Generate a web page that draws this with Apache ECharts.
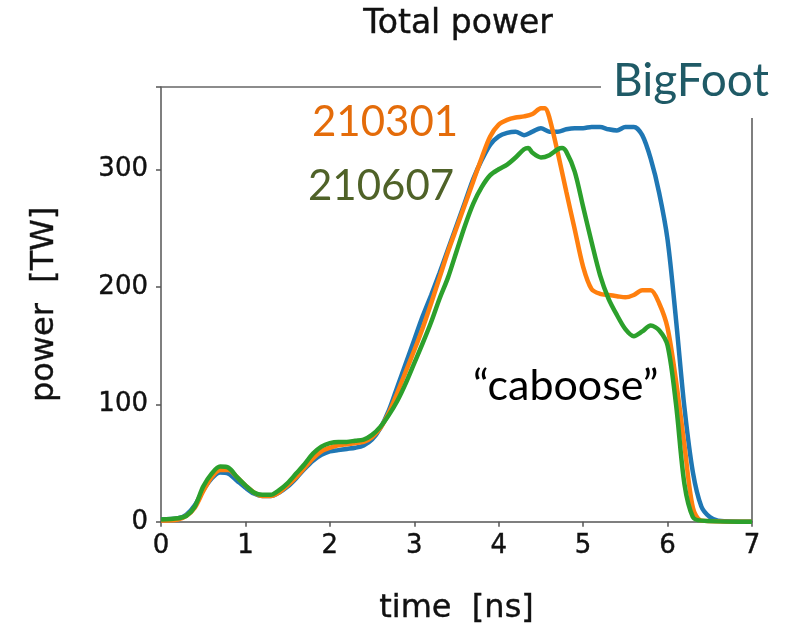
<!DOCTYPE html>
<html>
<head>
<meta charset="utf-8">
<script src="https://cdn.jsdelivr.net/npm/echarts@6/dist/echarts.min.js"></script>
<style>html,body{margin:0;padding:0;background:#fff}#c{width:797px;height:630px}</style>
</head>
<body>
<div id="c"></div>
<script>
// ---- data (time in ns, power in TW) ----
const tBigFoot = [0,0.2,0.3,0.4,0.5,0.6,0.7,0.8,0.9,1.0,1.1,1.2,1.3,1.4,1.5,1.6,1.7,1.8,1.9,2.0,2.1,2.2,2.3,2.4,2.5,2.6,2.7,2.8,2.9,3.0,3.1,3.2,3.3,3.4,3.5,3.6,3.7,3.8,3.9,4.0,4.1,4.2,4.3,4.4,4.5,4.6,4.7,4.8,4.9,5.0,5.1,5.2,5.3,5.4,5.5,5.6,5.7,5.8,5.9,6.0,6.1,6.2,6.3,6.4,6.5,6.6,7.0];
const pBigFoot = [2,3,6,14,27,37,42,41,35,29,24,22,22,25,30,37,45,52,57,60,61,62,63,65,70,80,95,115,135,155,175,193,212,232,252,272,292,308,321,328,331,332,329,332,335,332,332,334,335,335,336,336,334,333,336,336,329,309,280,240,172,97,42,13,4,1,0];

const t210301 = [0,0.2,0.3,0.4,0.5,0.6,0.7,0.8,0.9,1.0,1.1,1.2,1.3,1.4,1.5,1.6,1.7,1.8,1.9,2.0,2.1,2.2,2.3,2.4,2.5,2.6,2.7,2.8,2.9,3.0,3.1,3.2,3.3,3.4,3.5,3.6,3.7,3.8,3.9,4.0,4.1,4.2,4.3,4.4,4.5,4.55,4.6,4.7,4.8,4.9,5.0,5.1,5.2,5.3,5.4,5.5,5.6,5.7,5.8,5.9,6.0,6.1,6.2,6.3,6.4,7.0];
const p210301 = [1,2,5,12,26,38,44,44,38,31,25,22,22,25,31,38,46,54,60,63,65,66,67,68,72,80,93,110,128,146,165,186,208,230,250,270,290,310,328,338,342,344,345,347,352,352,344,314,281,249,217,198,194,193,192,191,193,197,197,186,165,120,65,12,1,0];

const t210607 = [0,0.2,0.3,0.4,0.5,0.6,0.7,0.8,0.9,1.0,1.1,1.2,1.3,1.4,1.5,1.6,1.7,1.8,1.9,2.0,2.1,2.2,2.3,2.4,2.5,2.6,2.7,2.8,2.9,3.0,3.1,3.2,3.3,3.4,3.5,3.6,3.7,3.8,3.9,4.0,4.1,4.2,4.3,4.35,4.4,4.5,4.6,4.7,4.75,4.8,4.9,5.0,5.1,5.2,5.3,5.4,5.5,5.6,5.7,5.8,5.9,6.0,6.1,6.2,6.3,6.4,7.0];
const p210607 = [2,3,5,13,30,41,47,46,38,31,25,23,23,27,33,41,49,58,64,67,68,68,69,70,74,81,91,103,118,135,152,170,190,208,230,252,271,285,295,300,304,310,317,318,314,310,312,317,318,315,298,268,238,210,190,176,164,158,162,167,163,150,100,32,4,1,0];

const xTicks = [0,1,2,3,4,5,6,7];
const yTicks = [0,100,200,300];

const seriesNames = ['BigFoot','210301','210607'];
const seriesColors = ['#1f77b4','#ff7f0e','#2ca02c'];

function pairs(t, p){ return t.map((x,i)=>[x,p[i]]); }

const chart = echarts.init(document.getElementById('c'), null, {renderer:'canvas'});
const tickFont = {fontFamily:'DejaVu Sans', fontSize:26, color:'#111', textBorderColor:'#111', textBorderWidth:0.4};
const nameFont = {fontFamily:'DejaVu Sans', fontSize:32, color:'#111', textBorderColor:'#111', textBorderWidth:0.4};
chart.setOption({
  animation:false,
  backgroundColor:'#fff',
  grid:{left:161, right:45, top:87, bottom:108, containLabel:false},
  xAxis:{
    type:'value', min:0, max:7, interval:1,
    name:'time  [ns]', nameLocation:'middle', nameGap:71,
    nameTextStyle:nameFont,
    axisLine:{show:true, onZero:false, lineStyle:{color:'#555', width:1.5}},
    axisTick:{show:true, length:5, lineStyle:{color:'#555', width:1.5}},
    axisLabel:Object.assign({margin:11, formatter:v=>xTicks.includes(v)?String(v):''}, tickFont),
    splitLine:{show:false}
  },
  yAxis:{
    type:'value', min:0, max:370, interval:100,
    name:'power  [TW]', nameLocation:'middle', nameGap:100,
    nameTextStyle:nameFont,
    axisLine:{show:true, lineStyle:{color:'#555', width:1.5}},
    axisTick:{show:true, length:5, lineStyle:{color:'#555', width:1.5}},
    axisLabel:Object.assign({margin:13, formatter:v=>yTicks.includes(v)?String(v):''}, tickFont),
    splitLine:{show:false}
  },
  series:[
    {name:seriesNames[0], type:'line', data:pairs(tBigFoot,pBigFoot), smooth:0.3, showSymbol:false, lineStyle:{color:seriesColors[0], width:4.5}, z:2},
    {name:seriesNames[1], type:'line', data:pairs(t210301,p210301), smooth:0.3, showSymbol:false, lineStyle:{color:seriesColors[1], width:4.5}, z:3},
    {name:seriesNames[2], type:'line', data:pairs(t210607,p210607), smooth:0.3, showSymbol:false, lineStyle:{color:seriesColors[2], width:4.5}, z:4}
  ],
  graphic:[
    {type:'line', shape:{x1:161, y1:87, x2:752, y2:87}, style:{stroke:'#666', lineWidth:1.5}, z:1},
    {type:'line', shape:{x1:752, y1:87, x2:752, y2:522}, style:{stroke:'#555', lineWidth:1.5}, z:1},
    {type:'rect', shape:{x:601, y:55, width:190, height:63}, style:{fill:'#fff'}, z:5},
    {type:'text', x:458, y:24, style:{text:'Total power', font:'33px "DejaVu Sans"', fill:'#111', stroke:'#111', lineWidth:0.4, align:'center', verticalAlign:'middle'}, z:10},
    {type:'text', x:613, y:81, style:{text:'BigFoot', font:'46px Lato', fill:'#1f5a66', verticalAlign:'middle'}, z:10},
    {type:'text', x:312, y:122, style:{text:'210301', font:'42px Lato', fill:'#e46c0a', verticalAlign:'middle'}, z:10},
    {type:'text', x:308, y:186, style:{text:'210607', font:'42px Lato', fill:'#4f6228', verticalAlign:'middle'}, z:10},
    {type:'text', x:473, y:386, style:{text:'\u201Ccaboose\u201D', font:'43px Lato', fill:'#000', verticalAlign:'middle'}, z:10}
  ]
});
</script>
</body>
</html>
